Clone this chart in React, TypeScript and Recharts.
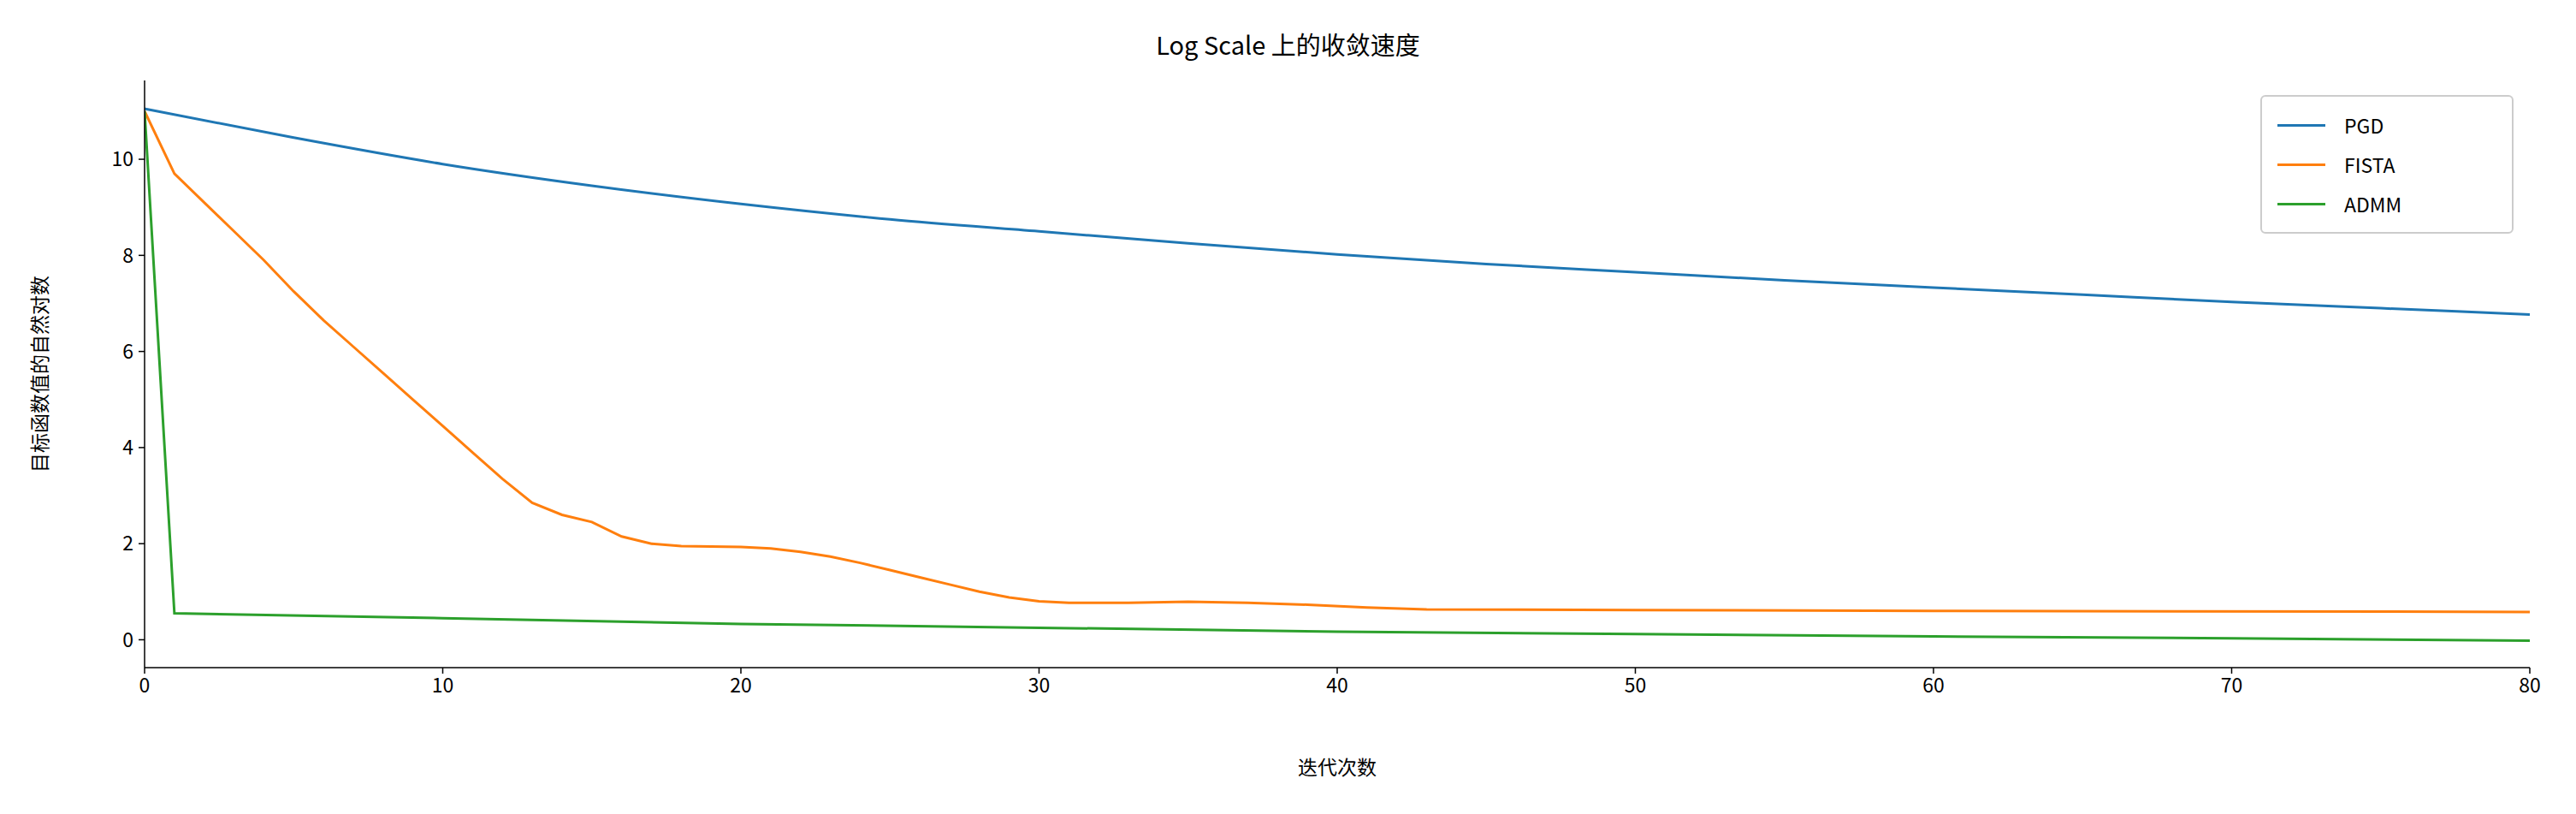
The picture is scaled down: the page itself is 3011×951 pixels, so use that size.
import { LineChart, Line, XAxis, YAxis } from "recharts";

const pgdIter = [0, 5, 10, 15, 20, 25, 30, 35, 40, 45, 50, 55, 60, 65, 70, 75, 80];
const pgdVal = [11.05, 10.45, 9.9, 9.45, 9.07, 8.75, 8.5, 8.25, 8.02, 7.82, 7.65, 7.48, 7.33, 7.18, 7.03, 6.9, 6.77];

const fistaIter = [0, 1, 2, 3, 4, 5, 6, 7, 8, 9, 10, 11, 12, 13, 14, 15, 16, 17, 18, 20, 21, 22, 23, 24, 25, 26, 27, 28, 29, 30, 31, 33, 35, 37, 39, 41, 43, 50, 60, 80];
const fistaVal = [11.0, 9.7, 9.1, 8.5, 7.9, 7.25, 6.65, 6.1, 5.55, 5.0, 4.45, 3.9, 3.35, 3.3, 2.85, 2.45, 2.15, 2.0, 1.95, 1.93, 1.9, 1.83, 1.73, 1.6, 1.45, 1.3, 1.15, 1.0, 0.88, 0.8, 0.77, 0.77, 0.79, 0.77, 0.73, 0.67, 0.63, 0.62, 0.6, 0.58];

const admmIter = [0, 1, 10, 20, 30, 40, 50, 60, 70, 80];
const admmVal = [11.0, 0.55, 0.45, 0.33, 0.25, 0.17, 0.12, 0.07, 0.03, -0.02];

const xTicks = [0, 10, 20, 30, 40, 50, 60, 70, 80];
const yTicks = [0, 2, 4, 6, 8, 10];

const toRows = (xs: number[], ys: number[]) => xs.map((x, i) => ({ x, y: ys[i] }));

// FISTA fix: smoother knee around 12-15
fistaVal[13] = 2.85;
fistaVal[14] = 2.6;

const series = [
  { name: "PGD", color: "#1f77b4", data: toRows(pgdIter, pgdVal), curve: "monotone" as const },
  { name: "FISTA", color: "#ff7f0e", data: toRows(fistaIter, fistaVal), curve: "linear" as const },
  { name: "ADMM", color: "#2ca02c", data: toRows(admmIter, admmVal), curve: "linear" as const },
];

const font = "'Noto Sans CJK SC', 'Noto Sans', sans-serif";
const tickStyle = { fontSize: 23, fill: "#000", fontFamily: font };

export default function App() {
  return (
    <div style={{ position: "absolute", left: 0, top: 0, width: 3011, height: 951, background: "#fff" }}>
      <div style={{ position: "absolute", top: 30, width: "100%", textAlign: "center", fontFamily: font, fontSize: 29 }}>
        Log Scale 上的收敛速度
      </div>
      <div style={{ position: "absolute", left: 45, top: 437, transform: "translate(-50%,-50%) rotate(-90deg)", fontFamily: font, fontSize: 23, whiteSpace: "nowrap" }}>
        目标函数值的自然对数
      </div>
      <div style={{ position: "absolute", top: 878, left: 169, width: 2788, textAlign: "center", fontFamily: font, fontSize: 23 }}>
        迭代次数
      </div>
      <LineChart width={3011} height={951} margin={{ top: 94, right: 54, bottom: 71, left: 0 }}>
        <XAxis type="number" dataKey="x" domain={[0, 80]} ticks={xTicks} allowDataOverflow height={100}
          tick={tickStyle} tickSize={7} tickMargin={6} stroke="#000" strokeWidth={1.5} />
        <XAxis xAxisId="top" orientation="top" type="number" dataKey="x" domain={[0, 80]} tick={false} tickLine={false} stroke="#000" strokeWidth={1.5} height={0} />
        <YAxis type="number" dataKey="y" domain={[-0.58, 11.64]} ticks={yTicks} allowDataOverflow width={169}
          tick={tickStyle} tickSize={7} tickMargin={6} stroke="#000" strokeWidth={1.5} />
        <YAxis yAxisId="right" orientation="right" domain={[-0.58, 11.64]} tick={false} tickLine={false} stroke="#000" strokeWidth={1.5} width={0} />
        {series.map((s) => (
          <Line key={s.name} data={s.data} dataKey="y" name={s.name} type={s.curve} stroke={s.color}
            strokeWidth={3} dot={false} isAnimationActive={false} />
        ))}
      </LineChart>
      <div style={{ position: "absolute", top: 111, left: 2642, width: 296, boxSizing: "border-box", border: "2px solid #ccc", borderRadius: 6, background: "#fff", padding: "10px 18px", fontFamily: font, fontSize: 23 }}>
        {series.map((s) => (
          <div key={s.name} style={{ display: "flex", alignItems: "center", height: 46 }}>
            <div style={{ width: 56, height: 3, background: s.color, marginRight: 22 }} />
            <span>{s.name}</span>
          </div>
        ))}
      </div>
    </div>
  );
}
